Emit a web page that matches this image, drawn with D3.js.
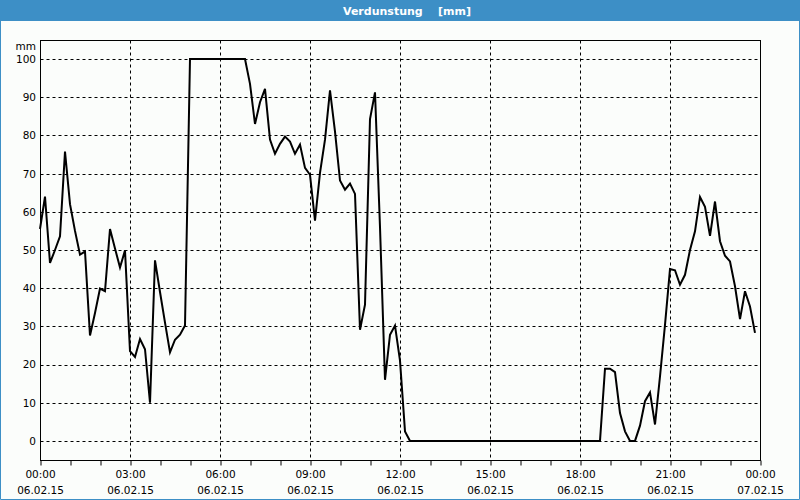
<!DOCTYPE html>
<html>
<head>
<meta charset="utf-8">
<script src="https://cdn.jsdelivr.net/npm/d3@7"></script>
<style>
  html, body { margin: 0; padding: 0; background: #fbfdfb; }
  svg { display: block; }
  text { font-family: "DejaVu Sans", Tahoma, sans-serif; }
</style>
</head>
<body>
<svg id="chart" width="800" height="500"></svg>
<script>
// ---- data ----
const titleText = "Verdunstung    [mm]";
const unitLabel = "mm";
const times = [
  "00:00","00:10","00:20","00:30","00:40","00:50","01:00","01:10","01:20","01:30",
  "01:40","01:50","02:00","02:10","02:20","02:30","02:40","02:50","03:00","03:10",
  "03:20","03:30","03:40","03:50","04:00","04:10","04:20","04:30","04:40","04:50",
  "05:00","06:50","07:00","07:10","07:20","07:30","07:40","07:50","08:00","08:10",
  "08:20","08:30","08:40","08:50","09:00","09:10","09:20","09:30","09:40","09:50",
  "10:00","10:10","10:20","10:30","10:40","10:50","11:00","11:10","11:20","11:30",
  "11:40","11:50","12:00","12:10","12:20","18:40","18:50","19:00","19:10","19:20",
  "19:30","19:40","19:50","20:00","20:10","20:20","20:30","20:40","20:50","21:00",
  "21:10","21:20","21:30","21:40","21:50","22:00","22:10","22:20","22:30","22:40",
  "22:50","23:00","23:10","23:20","23:30","23:40","23:50"
];
const values = [
  55.5, 64, 46.6, 50, 53.6, 75.8, 62, 55, 48.8, 49.6,
  27.6, 33.5, 39.9, 39.2, 55.5, 50.4, 45.4, 49.9, 23.5, 22,
  26.7, 24, 10, 47.3, 39, 31, 23.2, 26.5, 27.8, 30.2,
  100, 100, 93.5, 83, 88.7, 92.2, 78.9, 75.2, 77.8, 79.7,
  78.4, 75.2, 77.6, 71.5, 69.7, 57.7, 70.2, 78.9, 91.8, 81,
  68.2, 65.8, 67.4, 64.7, 29.1, 35.7, 84.3, 91.3, 56, 16,
  27.8, 30.2, 21, 2.5, 0, 0, 18.9, 18.9, 18, 7.3,
  2.5, 0, 0, 4, 10.4, 12.7, 4.3, 16.9, 30.4, 45,
  44.7, 40.9, 43.5, 50, 54.9, 63.9, 61.3, 53.7, 62.7, 52.3,
  48.5, 47, 40.5, 31.9, 39.2, 35.2, 28.3
];
const yTicks = [0, 10, 20, 30, 40, 50, 60, 70, 80, 90, 100];
const xTickTimes = ["2015-02-06 00:00","2015-02-06 03:00","2015-02-06 06:00","2015-02-06 09:00",
  "2015-02-06 12:00","2015-02-06 15:00","2015-02-06 18:00","2015-02-06 21:00","2015-02-07 00:00"];
const xTimeLabels = ["00:00","03:00","06:00","09:00","12:00","15:00","18:00","21:00","00:00"];
const xDateLabels = ["06.02.15","06.02.15","06.02.15","06.02.15","06.02.15","06.02.15","06.02.15","06.02.15","07.02.15"];
const dayStart = "2015-02-06 00:00";
const dayEnd = "2015-02-07 00:00";
const baseDate = "2015-02-06";

// ---- layout ----
const W = 800, H = 500;
const L = 40, T = 40, R = 760, B = 460;
const svg = d3.select("#chart");
const parseFull = d3.timeParse("%Y-%m-%d %H:%M");

const x = d3.scaleTime().domain([parseFull(dayStart), parseFull(dayEnd)]).range([L, R]);
const y = d3.scaleLinear().domain([-5, 105]).range([B, T]);

// background
svg.append("rect").attr("x", 0).attr("y", 0).attr("width", W).attr("height", H).attr("fill", "#fbfdfb");

// title bar
svg.append("rect").attr("x", 0).attr("y", 0).attr("width", W).attr("height", 21).attr("fill", "#3d8fc6");
svg.append("text")
  .attr("x", 407).attr("y", 14.5)
  .attr("text-anchor", "middle")
  .attr("fill", "#ffffff")
  .attr("font-size", "11px")
  .attr("font-weight", "bold")
  .style("white-space", "pre")
  .text(titleText);

// outer frame (left, right, bottom)
svg.append("path")
  .attr("d", `M0.5,21 V${H - 0.5} H${W - 0.5} V21`)
  .attr("fill", "none").attr("stroke", "#3d8fc6").attr("stroke-width", 1);

// grid
const majorTicks = xTickTimes.map(parseFull);
const gridG = svg.append("g").attr("transform", "translate(0.5,0.5)");
gridG.selectAll("line.hg").data(yTicks).join("line")
  .attr("class", "hg")
  .attr("x1", L).attr("x2", R)
  .attr("y1", d => Math.round(y(d))).attr("y2", d => Math.round(y(d)))
  .attr("stroke", "#000").attr("stroke-width", 1).attr("stroke-dasharray", "3,3");
gridG.selectAll("line.vg").data(majorTicks.slice(1, -1)).join("line")
  .attr("class", "vg")
  .attr("x1", d => Math.round(x(d))).attr("x2", d => Math.round(x(d)))
  .attr("y1", T).attr("y2", B)
  .attr("stroke", "#000").attr("stroke-width", 1).attr("stroke-dasharray", "3,3");

// hourly tick marks below the plot
const minorAxis = d3.axisBottom(x)
  .ticks(d3.timeHour.every(1))
  .tickSize(5)
  .tickFormat("");
const minorG = svg.append("g").attr("transform", `translate(0.5,${B + 0.5})`).call(minorAxis);
minorG.select(".domain").remove();
minorG.selectAll(".tick line").attr("stroke", "#000");

// x labels (two lines)
const xAxis = d3.axisBottom(x)
  .tickValues(majorTicks)
  .tickSize(0)
  .tickFormat((d, i) => xTimeLabels[i]);
const xG = svg.append("g").attr("transform", `translate(0,${B})`).call(xAxis);
xG.select(".domain").remove();
xG.selectAll(".tick text")
  .attr("fill", "#000")
  .attr("font-size", "10.5px")
  .attr("font-family", "\"DejaVu Sans\", sans-serif")
  .each(function(d, i) {
    const t = d3.select(this);
    t.text(null).attr("y", 0).attr("dy", null);
    t.append("tspan").attr("x", 0).attr("y", 18).text(xTimeLabels[i]);
    t.append("tspan").attr("x", 0).attr("y", 34).text(xDateLabels[i]);
  });

// y labels
const yAxis = d3.axisLeft(y).tickValues(yTicks).tickSize(0).tickPadding(4);
const yG = svg.append("g").attr("transform", `translate(${L},0)`).call(yAxis);
yG.select(".domain").remove();
yG.selectAll(".tick text")
  .attr("fill", "#000")
  .attr("font-size", "10.5px")
  .attr("font-family", "\"DejaVu Sans\", sans-serif");

svg.append("text")
  .attr("x", 36).attr("y", 50)
  .attr("text-anchor", "end")
  .attr("font-size", "10.5px")
  .attr("fill", "#000")
  .text(unitLabel);

// data line
const parseTime = d3.timeParse("%Y-%m-%d %H:%M");
const data = times.map((t, i) => ({ t: parseTime(baseDate + " " + t), v: values[i] }));
const line = d3.line().x(d => x(d.t)).y(d => y(d.v));
svg.append("path")
  .datum(data)
  .attr("d", line)
  .attr("fill", "none")
  .attr("stroke", "#000")
  .attr("stroke-width", 2)
  .attr("stroke-linejoin", "miter");

// plot frame
svg.append("rect")
  .attr("x", L + 0.5).attr("y", T + 0.5)
  .attr("width", R - L).attr("height", B - T)
  .attr("fill", "none").attr("stroke", "#000").attr("stroke-width", 1);
</script>
</body>
</html>
